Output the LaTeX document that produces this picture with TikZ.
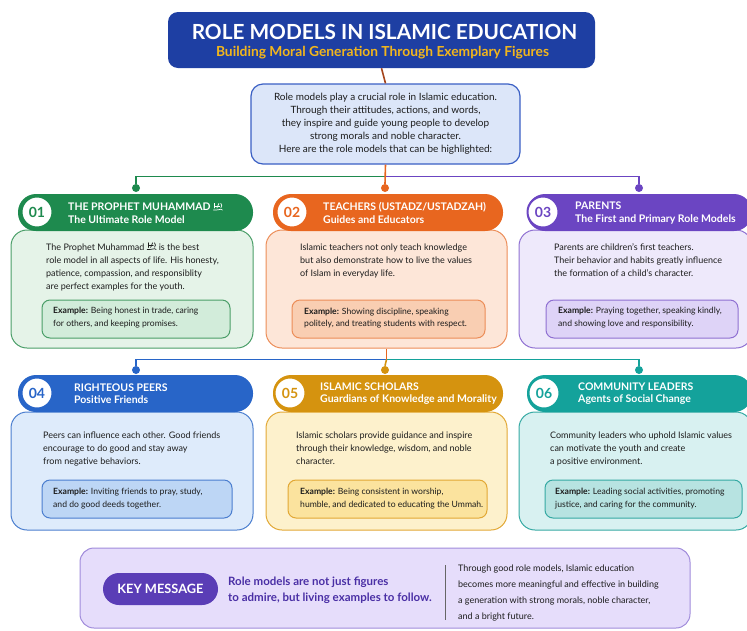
\documentclass[tikz,border=0pt]{standalone}
\usepackage{fontspec}
\setmainfont{Lato}
% honorific sign, drawn as a small shape (no installed family has it)
\newcommand{\salla}{\tikz[x=1pt, y=1pt, baseline=0pt, line width=0.7pt, line cap=round]{
  \draw (0,0.5) .. controls (2,2) and (4,-1) .. (6,1) .. controls (7,2) and (8,1) .. (9,0.5);
  \draw (1,2.5) -- (1,7.2);
  \draw (3.5,2.5) .. controls (4,5) and (5,5) .. (5.5,7.2);
  \draw (7.5,2.8) .. controls (8.6,4) and (8.6,6) .. (7.4,7.2);
  \draw (2,4.6) .. controls (3.5,5.4) .. (6.2,4.6);}}

\definecolor{titleblue}{HTML}{1E3FA3}
\definecolor{titlegold}{HTML}{F2B61C}
\definecolor{introfill}{HTML}{DCE6F9}
\definecolor{introdraw}{HTML}{3A5FC4}
\definecolor{trunkbrown}{HTML}{A5451C}
\definecolor{bodytext}{HTML}{1C1C1C}
\definecolor{greenhead}{HTML}{1E8A4E}
\definecolor{greenfill}{HTML}{E5F3E8}
\definecolor{greendraw}{HTML}{4A9E68}
\definecolor{greenex}{HTML}{D2ECDA}
\definecolor{orangehead}{HTML}{E8661F}
\definecolor{orangefill}{HTML}{FDE6D8}
\definecolor{orangedraw}{HTML}{EC8D58}
\definecolor{orangeex}{HTML}{F9CEB2}
\definecolor{purplehead}{HTML}{6B45C2}
\definecolor{purplefill}{HTML}{EEE9FB}
\definecolor{purpledraw}{HTML}{8F70D2}
\definecolor{purpleex}{HTML}{DED3F7}
\definecolor{bluehead}{HTML}{2865C8}
\definecolor{bluefill}{HTML}{DEEBFB}
\definecolor{bluedraw}{HTML}{4B7ECF}
\definecolor{blueex}{HTML}{BDD6F5}
\definecolor{goldhead}{HTML}{D5930F}
\definecolor{goldfill}{HTML}{FDF1CC}
\definecolor{golddraw}{HTML}{E2A835}
\definecolor{goldex}{HTML}{FBE39E}
\definecolor{tealhead}{HTML}{14A29B}
\definecolor{tealfill}{HTML}{D8F1F1}
\definecolor{tealdraw}{HTML}{35A9A3}
\definecolor{tealex}{HTML}{B7E3E1}
\definecolor{keyfill}{HTML}{E6DDFB}
\definecolor{keydraw}{HTML}{A08BDB}
\definecolor{keypill}{HTML}{5A3DB6}
\definecolor{keytext}{HTML}{4A2FA5}

\begin{document}
\begin{tikzpicture}[x=1pt, y=-1pt,
  headbox/.style={rectangle, rounded corners=18pt, minimum height=37pt, inner sep=0pt},
  bodybox/.style={rectangle, rounded corners=16pt, line width=1pt, minimum height=118pt, inner sep=0pt},
  exbox/.style={rectangle, rounded corners=8pt, line width=1pt, minimum height=38pt, inner sep=0pt},
  extext/.style={anchor=west, align=left, inner sep=0pt, text=bodytext, font=\fontsize{8.6}{12.5}\selectfont},
  numcircle/.style={circle, fill=white, line width=2pt, minimum size=31pt, inner sep=0pt, font=\fontsize{14}{14}\selectfont\bfseries},
  headtext/.style={anchor=west, align=left, text=white, inner sep=0pt, font=\fontsize{10.5}{12.5}\selectfont\bfseries},
  bodytxt/.style={anchor=west, align=left, text=bodytext, inner sep=0pt, font=\fontsize{9}{13}\selectfont},
  dot/.style={circle, inner sep=0pt, minimum size=8pt},
  link/.style={line width=1.6pt}
]
\useasboundingbox (0,0) rectangle (747,630);
\clip (0,0) rectangle (747,630);

% Title banner
\node[rectangle, rounded corners=10pt, fill=titleblue, minimum width=427pt, minimum height=56pt] (title) at (381.5,40) {};
\node[text=white, font=\fontsize{20.8}{21}\selectfont\bfseries] (titletext) at (384.5,31.5) {ROLE MODELS IN ISLAMIC EDUCATION};
\node[text=titlegold, font=\fontsize{13.8}{14}\selectfont\bfseries] (subtitle) at (382.5,53) {Building Moral Generation Through Exemplary Figures};

% Intro box
\node[rectangle, rounded corners=12pt, fill=introfill, draw=introdraw, line width=1.2pt, minimum width=269pt, minimum height=80pt, align=center, text=bodytext, font=\fontsize{10}{13}\selectfont] (intro) at (385.5,124)
  {Role models play a crucial role in Islamic education.\\
   Through their attitudes, actions, and words,\\
   they inspire and guide young people to develop\\
   strong morals and noble character.\\
   Here are the role models that can be highlighted:};

% Row one: cards 01 to 03
\node[bodybox, fill=greenfill, draw=greendraw, minimum width=242pt] (body1) at (132,289) {};
\node[headbox, fill=greenhead, minimum width=235pt] (head1) at (135.5,212.5) {};
\node[numcircle, draw=greenhead, text=greenhead] (num1) at (37,212) {01};
\node[headtext] (htext1) at (68,213) {THE PROPHET MUHAMMAD \salla\\The Ultimate Role Model};
\node[bodytxt] (btext1) at (46,266.5) {The Prophet Muhammad \salla{} is the best\\role model in all aspects of life. His honesty,\\patience, compassion, and responsiblity\\are perfect examples for the youth.};
\node[exbox, fill=greenex, draw=greendraw, minimum width=188pt] (ex1) at (136,319) {};
\node[extext] (extext1) at (53,317.5) {\textbf{Example:} Being honest in trade, caring\\for others, and keeping promises.};

\node[bodybox, fill=orangefill, draw=orangedraw, minimum width=241pt] (body2) at (386.5,289) {};
\node[headbox, fill=orangehead, minimum width=230pt] (head2) at (388,212.5) {};
\node[numcircle, draw=orangehead, text=orangehead] (num2) at (292,212) {02};
\node[headtext] (htext2) at (323,213) {TEACHERS (USTADZ/USTADZAH)\\Guides and Educators};
\node[bodytxt] (btext2) at (300,261) {Islamic teachers not only teach knowledge\\but also demonstrate how to live the values\\of Islam in everyday life.};
\node[exbox, fill=orangeex, draw=orangedraw, minimum width=193pt] (ex2) at (388.5,319) {};
\node[extext] (extext2) at (304,318) {\textbf{Example:} Showing discipline, speaking\\politely, and treating students with respect.};

\node[bodybox, fill=purplefill, draw=purpledraw, minimum width=233pt] (body3) at (635.5,289) {};
\node[headbox, fill=purplehead, minimum width=225pt] (head3) at (639.5,212.5) {};
\node[numcircle, draw=purplehead, text=purplehead] (num3) at (543,212) {03};
\node[headtext] (htext3) at (575,213) {PARENTS\\The First and Primary Role Models};
\node[bodytxt] (btext3) at (554,260) {Parents are children's first teachers.\\Their behavior and habits greatly influence\\the formation of a child's character.};
\node[exbox, fill=purpleex, draw=purpledraw, minimum width=192pt] (ex3) at (642,319) {};
\node[extext] (extext3) at (558,317.5) {\textbf{Example:} Praying together, speaking kindly,\\and showing love and responsibility.};

% Row two: cards 04 to 06
\node[bodybox, fill=bluefill, draw=bluedraw, minimum width=242pt] (body4) at (132,471) {};
\node[headbox, fill=bluehead, minimum width=235pt] (head4) at (135.5,393.5) {};
\node[numcircle, draw=bluehead, text=bluehead] (num4) at (37,393) {04};
\node[headtext] (htext4) at (74,393.5) {RIGHTEOUS PEERS\\Positive Friends};
\node[bodytxt] (btext4) at (43,448.5) {Peers can influence each other. Good friends\\encourage to do good and stay away\\from negative behaviors.};
\node[exbox, fill=blueex, draw=bluedraw, minimum width=190pt] (ex4) at (137,499) {};
\node[extext] (extext4) at (53,498.5) {\textbf{Example:} Inviting friends to pray, study,\\and do good deeds together.};

\node[bodybox, fill=goldfill, draw=golddraw, minimum width=241pt] (body5) at (386.5,471) {};
\node[headbox, fill=goldhead, minimum width=230pt] (head5) at (388,393.5) {};
\node[numcircle, draw=goldhead, text=goldhead] (num5) at (290,393) {05};
\node[headtext] (htext5) at (320,393.5) {ISLAMIC SCHOLARS\\Guardians of Knowledge and Morality};
\node[bodytxt] (btext5) at (296,448.5) {Islamic scholars provide guidance and inspire\\through their knowledge, wisdom, and noble\\character.};
\node[exbox, fill=goldex, draw=golddraw, minimum width=199pt] (ex5) at (387.5,499) {};
\node[extext] (extext5) at (300,498.5) {\textbf{Example:} Being consistent in worship,\\humble, and dedicated to educating the Ummah.};

\node[bodybox, fill=tealfill, draw=tealdraw, minimum width=233pt] (body6) at (635.5,471) {};
\node[headbox, fill=tealhead, minimum width=225pt] (head6) at (639.5,393.5) {};
\node[numcircle, draw=tealhead, text=tealhead] (num6) at (544,393) {06};
\node[headtext] (htext6) at (578,393.5) {COMMUNITY LEADERS\\Agents of Social Change};
\node[bodytxt] (btext6) at (550,448.5) {Community leaders who uphold Islamic values\\can motivate the youth and create\\a positive environment.};
\node[exbox, fill=tealex, draw=tealdraw, minimum width=197pt] (ex6) at (643.5,499) {};
\node[extext] (extext6) at (555,498.5) {\textbf{Example:} Leading social activities, promoting\\justice, and caring for the community.};

% Dots above the headers
\node[dot, fill=greenhead] (d1) at (136,188) {};
\node[dot, fill=orangehead] (d2) at (385,188) {};
\node[dot, fill=purplehead] (d3) at (639,188) {};
\node[dot, fill=bluehead] (d4) at (136,370) {};
\node[dot, fill=goldhead] (d5) at (385,370) {};
\node[dot, fill=tealhead] (d6) at (639,370) {};

% Connectors
\draw[link, trunkbrown] (title.south) -- (intro.north);
\path (intro.south) ++(0,12) coordinate (bus1);
\draw[link, greenhead] (bus1) -| (d1.north);
\draw[link, purplehead] (bus1) -| (d3.north);
\draw[link, orangehead] (intro.south) -- (d2.north);
\path (body2.south) ++(0,11) coordinate (bus2);
\draw[link, bluehead] (bus2) -| (d4.north);
\draw[link, tealhead] (bus2) -| (d6.north);
\draw[link, orangehead] (body2.south) -- (bus2);
\draw[link, goldhead] (bus2) -- (d5.north);

% Key message
\node[rectangle, rounded corners=14pt, fill=keyfill, draw=keydraw, line width=1pt, minimum width=610pt, minimum height=80pt] (keybox) at (385,588) {};
\node[rectangle, rounded corners=16pt, fill=keypill, text=white, minimum width=115pt, minimum height=32pt, font=\fontsize{12.8}{13}\selectfont\bfseries] (keylabel) at (160.5,589) {KEY MESSAGE};
\node[anchor=west, align=left, inner sep=0pt, text=keytext, font=\fontsize{11.5}{16}\selectfont\bfseries] (keymsg) at (228,590) {Role models are not just figures\\to admire, but living examples to follow.};
\coordinate (divtop) at (445,565);
\coordinate (divbot) at (445,620);
\draw[line width=0.8pt, black!60] (divtop) -- (divbot);
\node[anchor=west, align=left, inner sep=0pt, text=bodytext, font=\fontsize{9}{16}\selectfont] (keynote) at (458,592.5) {Through good role models, Islamic education\\becomes more meaningful and effective in building\\a generation with strong morals, noble character,\\and a bright future.};

\end{tikzpicture}
\end{document}
